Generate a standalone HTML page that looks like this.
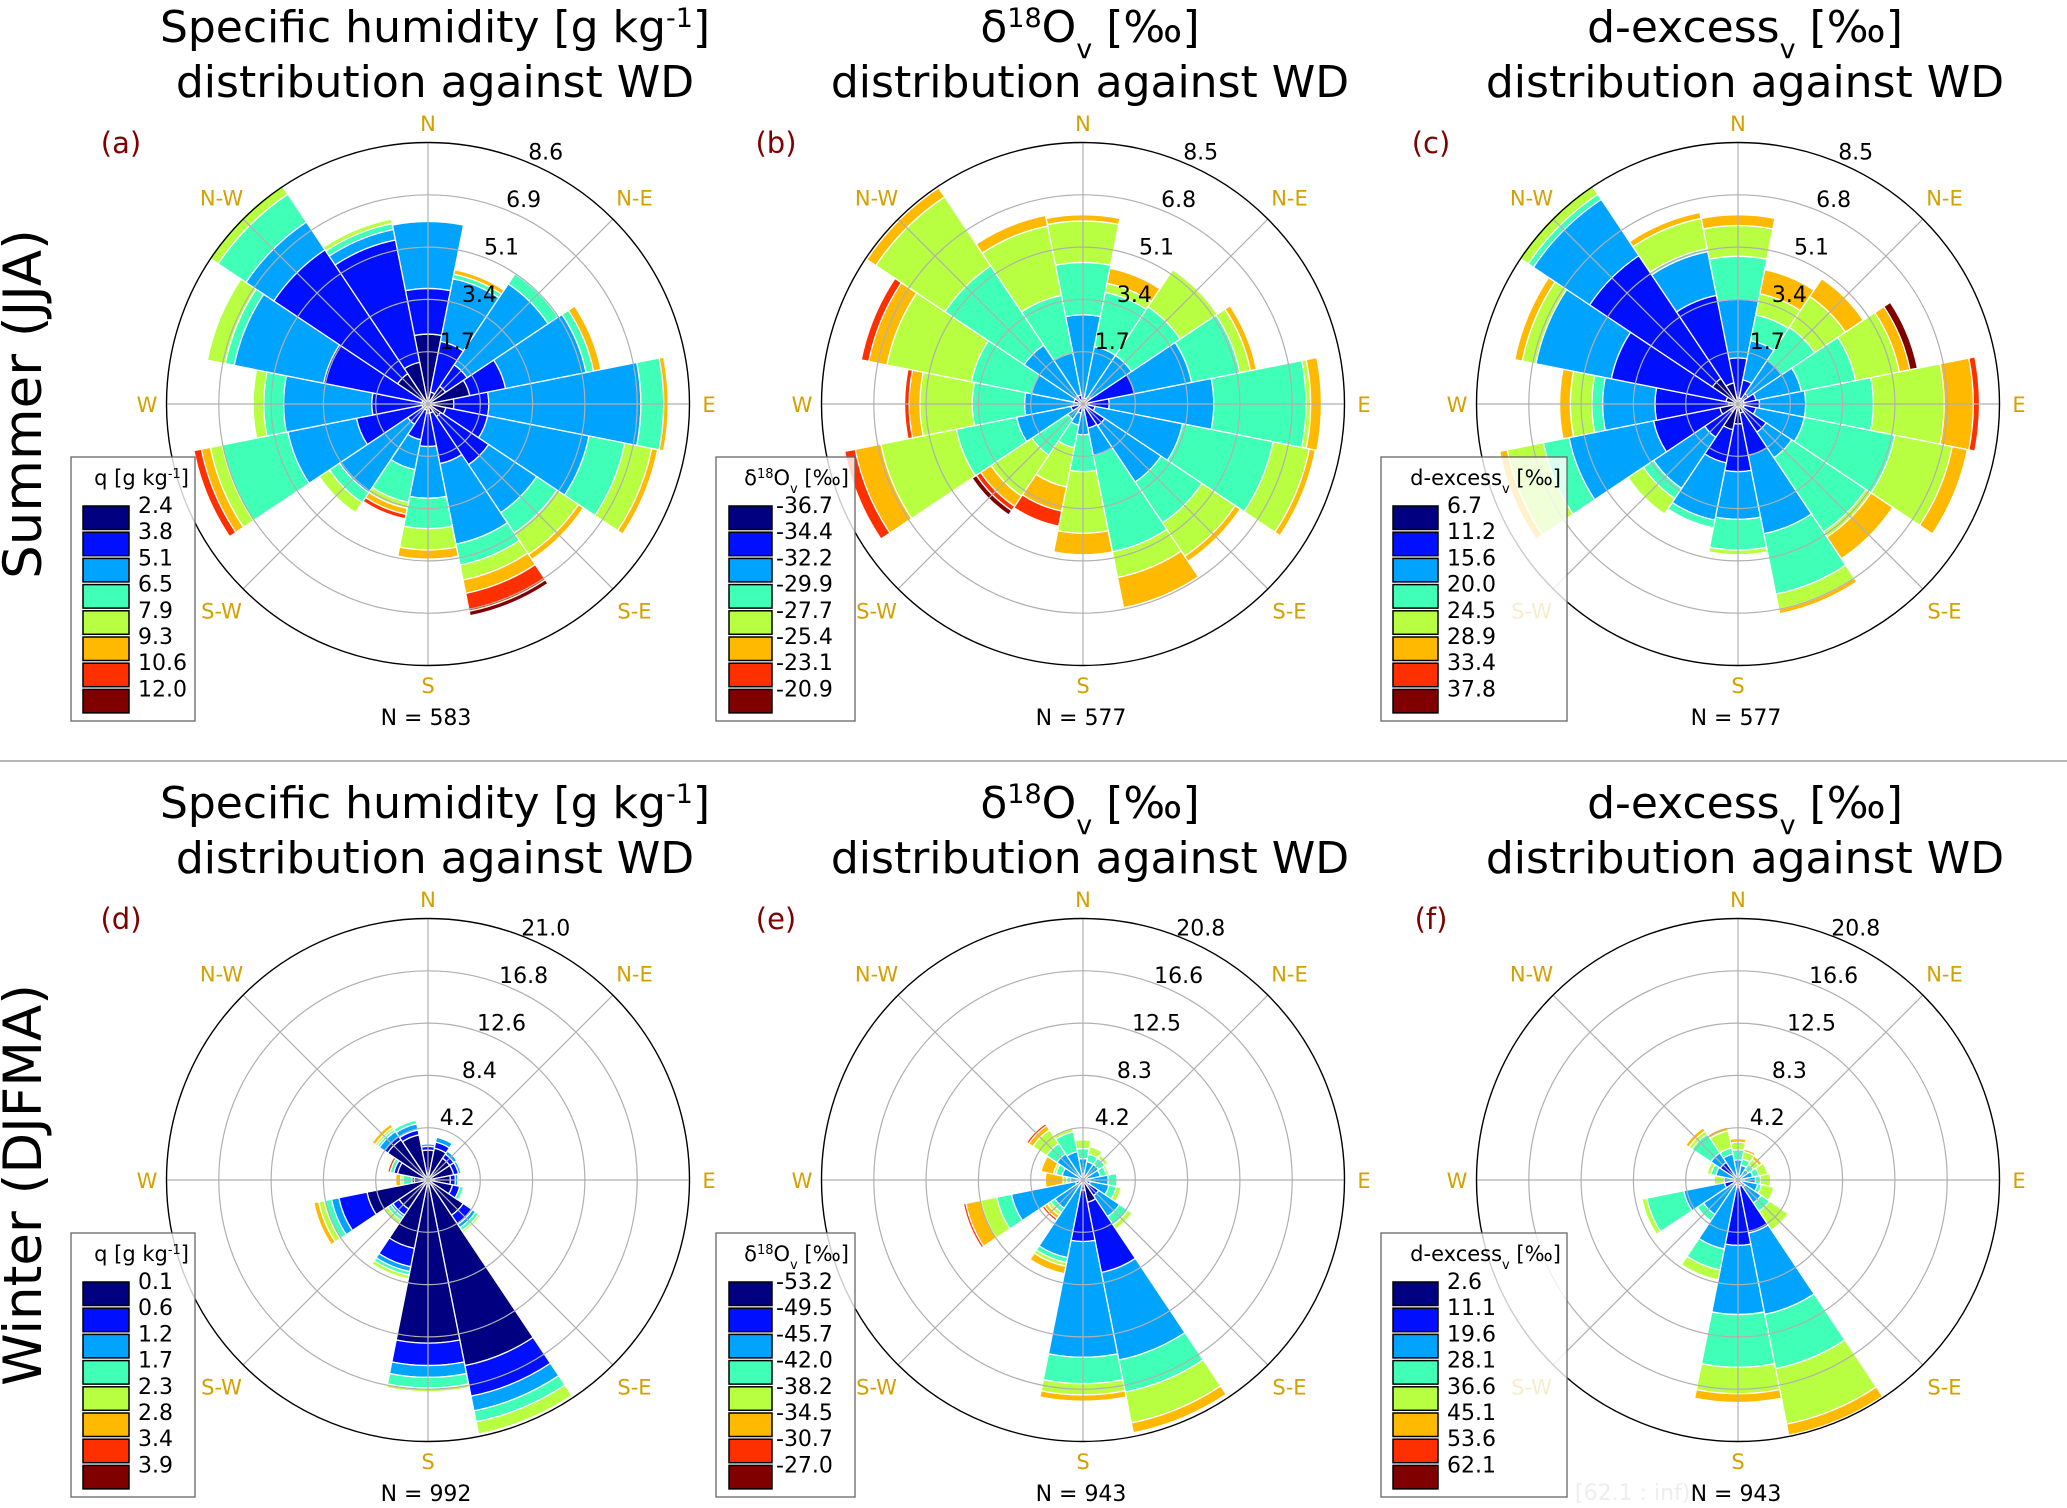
<!DOCTYPE html>
<html><head><meta charset="utf-8">
<style>
html,body{margin:0;padding:0;background:#fff;}
svg{display:block;font-family:"DejaVu Sans","Liberation Sans",sans-serif;}
</style></head>
<body>
<svg id="fig" width="2067" height="1508" viewBox="0 0 2067 1508" xmlns="http://www.w3.org/2000/svg">
<rect x="0" y="0" width="2067" height="1508" fill="#fff"/>
<text transform="translate(41,404) rotate(-90)" text-anchor="middle" font-size="53">Summer (JJA)</text>
<text transform="translate(41,1185) rotate(-90)" text-anchor="middle" font-size="53">Winter (DJFMA)</text>
<line x1="0" y1="761" x2="2067" y2="761" stroke="#8c8c8c" stroke-width="1.3"/>
<g id="panels"></g>
</svg>
<script>
// ---- data (frequency % per direction, per value bin) ----
const directions = ['N','NNE','NE','ENE','E','ESE','SE','SSE','S','SSW','SW','WSW','W','WNW','NW','NNW'];
const summerQ = [
[2.3,1.5,2.2,0,0,0,0,0],[0.4,1.7,2.1,0.15,0,0.15,0,0],[0.7,0.85,3.2,0.4,0,0,0,0],[1.4,1.2,2.7,0.25,0,0.25,0,0],
[0.85,1.15,5.0,0.75,0,0.15,0,0],[0.6,1.4,3.4,1.2,0.9,0.2,0,0],[0.5,1.9,1.9,0.8,0.85,0.2,0,0],[0.3,1.7,2.7,0.7,0.5,0.45,0.6,0.15],
[0.3,1.1,1.7,1.0,0.7,0.3,0,0],[0.2,1.0,1.0,1.1,0.2,0.2,0.15,0],[0.2,0.6,2.7,0.4,0.4,0,0,0],[0.2,2.2,2.3,2.2,0.4,0.3,0.25,0],
[0.15,1.7,2.9,0.65,0.35,0,0,0],[0.2,3.3,3.0,0.3,0.6,0,0,0],[1.2,4.9,1.1,1.1,0.35,0,0,0],[1.4,4.1,0.35,0.2,0.15,0,0,0]];
const summerD18O = [
[0.1,0.1,2.7,1.7,1.35,0.2,0,0],[0.1,0.1,1.7,1.8,0.3,0.5,0,0],[0.1,0.2,1.6,1.9,1.45,0,0,0],[0.1,1.6,1.9,1.6,0.35,0.2,0,0],
[0.2,0.65,3.4,3.0,0.15,0.35,0,0],[0.1,0.3,2.9,3.0,1.2,0.2,0,0],[0.1,0.75,2.2,1.6,1.3,0.2,0,0],[0.1,0.7,0.9,3.2,0.85,1.0,0,0],
[0.1,0.1,0.8,1.2,2.0,0.7,0,0],[0.1,0.2,0.4,0.75,1.3,0.8,0.5,0],[0.1,0.1,0.4,1.4,1.6,0.4,0.17,0.17],[0.1,0.3,1.8,2.0,2.5,0.85,0.35,0],
[0.1,0.2,1.6,1.7,1.7,0.35,0.15,0],[0.1,0.2,1.4,2.0,2.8,0.6,0.25,0],[0.1,0.2,2.0,3.1,2.7,0.35,0,0],[0.1,0.2,1.4,1.9,2.3,0.35,0,0]];
const summerDex = [
[0.2,1.3,1.9,1.4,1.0,0.35,0,0],[0.2,0.6,1.3,0.85,0.7,0.8,0,0],[0.1,0.3,1.3,1.3,1.2,0.7,0,0],[0.2,0.4,1.5,1.8,1.45,0.35,0,0.25],
[0.2,0.5,1.5,2.2,2.3,0.95,0.2,0],[0.2,0.4,1.6,3.0,1.9,0.5,0,0],[0.1,1.0,1.0,2.9,0.2,0.85,0,0],[0.3,1.4,2.6,2.0,0.5,0.15,0,0],
[0.65,1.55,1.55,1.0,0.15,0,0,0],[0.85,1.1,1.9,0.25,0,0,0,0],[0.3,1.0,2.0,0.4,0.6,0,0,0],[0.6,2.2,2.8,0.85,1.2,0.25,0,0],
[0.3,2.4,1.7,0.35,0.7,0.35,0,0],[0.4,3.8,2.5,0,0.45,0.25,0,0],[1.0,4.8,2.2,0.2,0.35,0,0,0],[0.7,2.9,1.45,0.1,1.0,0.2,0,0]];
const winterQ = [
[2.4,0.3,0.2,0.1,0,0,0,0],[2.6,0.5,0.4,0,0,0,0,0],[2.1,0.4,0.3,0.1,0,0,0,0],[2.1,0.4,0.2,0,0,0,0,0],
[1.8,0.4,0.2,0.1,0,0,0,0],[2.0,0.6,0,0.3,0,0,0,0],[3.4,0.9,0.3,0.3,0.2,0.1,0,0],[15.2,2.5,1.2,0.9,1.0,0,0,0],
[13.1,1.8,0.95,0.85,0.3,0,0,0],[5.6,1.5,0.4,0.3,0.3,0,0,0],[2.8,0.6,0.2,0.3,0.3,0,0,0],[5.0,2.3,0.6,0.6,0.45,0.4,0,0],
[1.1,0.2,0,0.7,0.2,0.4,0,0],[2.5,0.3,0,0.3,0,0,0.2,0],[3.9,0.3,0.5,0.2,0.2,0.3,0,0],[3.7,0.4,0.5,0.3,0,0,0,0]];
const winterD18O = [
[0,0.3,1.4,0.8,0.7,0,0,0],[0,0,1.5,0.6,0.6,0,0,0],[0,0,1.5,0.6,0.3,0,0,0],[0,0,1.4,0.5,0.2,0,0,0],
[0,0,2.0,0.7,0,0,0,0],[0.3,0.3,1.5,0.6,0.4,0,0,0],[0.5,1.0,2.0,0.8,0.4,0,0,0],[1.8,5.7,7.1,2.6,2.5,0.8,0,0],
[0.8,4.1,9.2,2.1,0.9,0.5,0,0],[0.3,0,6.0,0.4,0.3,0.6,0,0],[0,0,2.7,0.4,0.3,0.3,0.2,0],[0.3,0.3,5.2,1.2,1.3,1.2,0.2,0],
[0.2,0.2,0.6,0.3,0.3,1.4,0,0],[0,0,1.7,0.5,0.2,1.0,0,0],[0,0,2.5,1.0,1.3,0.4,0.2,0],[0,0.3,2.0,1.6,0.3,0,0,0]];
const winterDex = [
[0,0.3,1.3,0.8,0.6,0.3,0,0],[0,0,1.2,0.5,0.6,0.2,0,0],[0,0,1.0,0.5,0.5,0.3,0,0],[0,0,1.2,0.5,0.7,0,0,0],
[0,0,1.4,0.4,0.8,0.1,0,0],[0,0.3,1.3,0.3,1.0,0,0,0],[0.3,0.4,1.5,0.8,1.8,0,0,0],[0.5,3.8,6.6,4.4,4.5,0.9,0,0],
[0.6,4.6,5.5,4.2,2.1,0.7,0,0],[0,0.4,5.2,1.7,0.8,0,0,0],[0,0,3.3,0.6,0,0,0,0],[0.3,0.8,3.3,3.0,0.4,0.1,0,0],
[0,0,1.1,0,0.8,0,0,0],[0,0,1.8,0.4,0.3,0,0,0],[0.2,1.5,0.9,1.8,0.3,0.3,0,0],[0,0,2.1,0.5,1.4,0.3,0,0]];
const ringTicksA = ['1.7','3.4','5.1','6.9','8.6'];
const ringTicksB = ['1.7','3.4','5.1','6.8','8.5'];
const ringTicksC = ['1.7','3.4','5.1','6.8','8.5'];
const ringTicksD = ['4.2','8.4','12.6','16.8','21.0'];
const ringTicksE = ['4.2','8.3','12.5','16.6','20.8'];
const ringTicksF = ['4.2','8.3','12.5','16.6','20.8'];
const legendA = ['2.4','3.8','5.1','6.5','7.9','9.3','10.6','12.0'];
const legendB = ['-36.7','-34.4','-32.2','-29.9','-27.7','-25.4','-23.1','-20.9'];
const legendC = ['6.7','11.2','15.6','20.0','24.5','28.9','33.4','37.8'];
const legendD = ['0.1','0.6','1.2','1.7','2.3','2.8','3.4','3.9'];
const legendE = ['-53.2','-49.5','-45.7','-42.0','-38.2','-34.5','-30.7','-27.0'];
const legendF = ['2.6','11.1','19.6','28.1','36.6','45.1','53.6','62.1'];
const counts = [583,577,577,992,943,943];
const panelLetters = ['(a)','(b)','(c)','(d)','(e)','(f)'];

// ---- styling / layout ----
const binColors = ['#000080','#0010ff','#00a4ff','#40ffb7','#b7ff40','#ffb900','#ff3000','#800000'];
const compass = ['N','N-E','E','S-E','S','S-W','W','N-W'];
const NS = 'http://www.w3.org/2000/svg';
const R = 261.5;
const colX = [428, 1083, 1738];
const rowY = [404, 1180];
const legendBox = [{x:71,w:124,sw:83,swW:46,lx:138},{x:716,w:139,sw:729,swW:43,lx:776},{x:1381,w:186,sw:1393,swW:45,lx:1447}];
const panels = [
 {data:summerQ, ticks:ringTicksA, leg:legendA, kind:0},
 {data:summerD18O, ticks:ringTicksB, leg:legendB, kind:1},
 {data:summerDex, ticks:ringTicksC, leg:legendC, kind:2},
 {data:winterQ, ticks:ringTicksD, leg:legendD, kind:0},
 {data:winterD18O, ticks:ringTicksE, leg:legendE, kind:1},
 {data:winterDex, ticks:ringTicksF, leg:legendF, kind:2}];

const root = document.getElementById('panels');
function mk(tag, attrs, parent){
  const e = document.createElementNS(NS, tag);
  for (const k in attrs) e.setAttribute(k, attrs[k]);
  (parent||root).appendChild(e);
  return e;
}
function pt(cx,cy,r,deg){const a=deg*Math.PI/180;return [cx+r*Math.sin(a), cy-r*Math.cos(a)];}
function wedgePath(cx,cy,r0,r1,a0,a1){
  const p1=pt(cx,cy,r1,a0), p2=pt(cx,cy,r1,a1);
  let d;
  if (r0<=0.01){ d=`M${cx},${cy}L${p1[0]},${p1[1]}A${r1},${r1} 0 0 1 ${p2[0]},${p2[1]}Z`; }
  else { const q1=pt(cx,cy,r0,a1), q2=pt(cx,cy,r0,a0);
    d=`M${q2[0]},${q2[1]}L${p1[0]},${p1[1]}A${r1},${r1} 0 0 1 ${p2[0]},${p2[1]}L${q1[0]},${q1[1]}A${r0},${r0} 0 0 0 ${q2[0]},${q2[1]}Z`; }
  return d;
}
function titleText(g, kind, x, y, fs, anchor){
  const t = mk('text',{x:x,y:y,'font-size':fs,'text-anchor':anchor},g);
  const sup = Math.round(fs*0.62);
  if (kind===0){
    t.appendChild(document.createTextNode('Specific humidity [g kg'));
    const s = mk('tspan',{'baseline-shift':'super','font-size':sup},t); s.textContent='-1';
    t.appendChild(document.createTextNode(']'));
  } else if (kind===1){
    t.appendChild(document.createTextNode('δ'));
    const s = mk('tspan',{'baseline-shift':'super','font-size':sup},t); s.textContent='18';
    t.appendChild(document.createTextNode('O'));
    const b = mk('tspan',{'baseline-shift':'sub','font-size':sup},t); b.textContent='v';
    t.appendChild(document.createTextNode(' [‰]'));
  } else {
    t.appendChild(document.createTextNode('d-excess'));
    const b = mk('tspan',{'baseline-shift':'sub','font-size':sup},t); b.textContent='v';
    t.appendChild(document.createTextNode(' [‰]'));
  }
  return t;
}
function legendTitle(g, kind, x, y){
  const t = mk('text',{x:x,y:y,'font-size':21,'text-anchor':'end'},g);
  if (kind===0){ t.appendChild(document.createTextNode('q [g kg'));
    const s=mk('tspan',{'baseline-shift':'super','font-size':13},t); s.textContent='-1';
    t.appendChild(document.createTextNode(']')); }
  else if (kind===1){ t.appendChild(document.createTextNode('δ'));
    const s=mk('tspan',{'baseline-shift':'super','font-size':13},t); s.textContent='18';
    t.appendChild(document.createTextNode('O'));
    const b=mk('tspan',{'baseline-shift':'sub','font-size':13},t); b.textContent='v';
    t.appendChild(document.createTextNode(' [‰]')); }
  else { t.appendChild(document.createTextNode('d-excess'));
    const b=mk('tspan',{'baseline-shift':'sub','font-size':13},t); b.textContent='v';
    t.appendChild(document.createTextNode(' [‰]')); }
  return t;
}

panels.forEach((P, pi)=>{
  const col = pi%3, row = Math.floor(pi/3);
  const cx = colX[col], cy = rowY[row], dy = row*776;
  const maxV = parseFloat(P.ticks[P.ticks.length-1]);
  const rScale = v => v/maxV*R;
  const g = mk('g',{});
  
  

  // title
  const tg = mk('g',{},g);
  
  
  titleText(tg, P.kind, cx+7, 42+dy, 44, 'middle');
  const t2 = mk('text',{x:cx+7,y:97+dy,'font-size':44,'text-anchor':'middle'},tg);
  t2.textContent = 'distribution against WD';

  const lt = mk('text',{x:colX[col]-307, y:153+dy, 'font-size':29, fill:'#7f0000','text-anchor':'middle'},g);
  
  
  lt.textContent = panelLetters[pi];

  // bars
  const bars = mk('g',{},g);
  
  
  P.data.forEach((bins, di)=>{
    const c = di*22.5, a0 = c-11.25, a1 = c+11.25;
    let cum = 0;
    bins.forEach((v, bi)=>{
      if (v<=0) return;
      const r0 = rScale(cum), r1 = rScale(cum+v);
      cum += v;
      const p = mk('path',{d:wedgePath(cx,cy,r0,r1,a0,a1), fill:binColors[bi], stroke:'#fff','stroke-width':1.3,'stroke-linejoin':'miter'},bars);
      
      
    });
  });

  // grid
  const grid = mk('g',{},g);
  
  
  for (let k=1;k<=4;k++){
    mk('circle',{cx:cx,cy:cy,r:R*k/5,fill:'none',stroke:'#b0b0b0','stroke-width':1.2},grid);
  }
  for (let k=0;k<4;k++){
    const e = pt(cx,cy,R,k*45), s = pt(cx,cy,R,k*45+180);
    mk('line',{x1:s[0],y1:s[1],x2:e[0],y2:e[1],stroke:'#b0b0b0','stroke-width':1.2},grid);
  }
  const outer = mk('circle',{cx:cx,cy:cy,r:R,fill:'none',stroke:'#000','stroke-width':1.4},g);
  
  

  // ring labels
  P.ticks.forEach((lab,k)=>{
    const p = pt(cx,cy,R*(k+1)/5+17,25);
    const t = mk('text',{x:p[0],y:p[1]+8,'font-size':22,'text-anchor':'middle'},g);
    
    
    t.textContent = lab;
  });
  // compass labels
  compass.forEach((lab,k)=>{
    const p = pt(cx,cy,(k%2)?292:281,k*45);
    const t = mk('text',{x:p[0],y:p[1]+8,'font-size':21,'text-anchor':'middle',fill:'#d4a000'},g);
    
    
    t.textContent = lab;
  });
  // N count
  const nt = mk('text',{x:cx-2,y:725+dy,'font-size':22,'text-anchor':'middle'},g);
  
  
  nt.textContent = 'N = '+counts[pi];

  // legend
  const L = legendBox[col];
  const lg = mk('g',{},g);
  
  
  mk('rect',{x:L.x,y:457+dy,width:L.w,height:264,fill:'#fff','fill-opacity':0.8,stroke:'#666','stroke-width':1.3},lg);
  legendTitle(lg, P.kind, L.x+L.w-6, 485+dy);
  P.leg.forEach((lab,i)=>{
    const sw = mk('rect',{x:L.sw,y:506+dy+26.2*i,width:L.swW,height:23.5,fill:binColors[i],stroke:'#000','stroke-width':1.5},lg);
    
    
    const t = mk('text',{x:L.lx,y:513+dy+26.2*i,'font-size':22},lg);
    
    
    t.textContent = lab;
  });
});
const faint = mk('text',{x:1575,y:1500,'font-size':22,fill:'#eeeeee'});


faint.textContent = '[62.1 : inf)';
</script>
</body></html>
